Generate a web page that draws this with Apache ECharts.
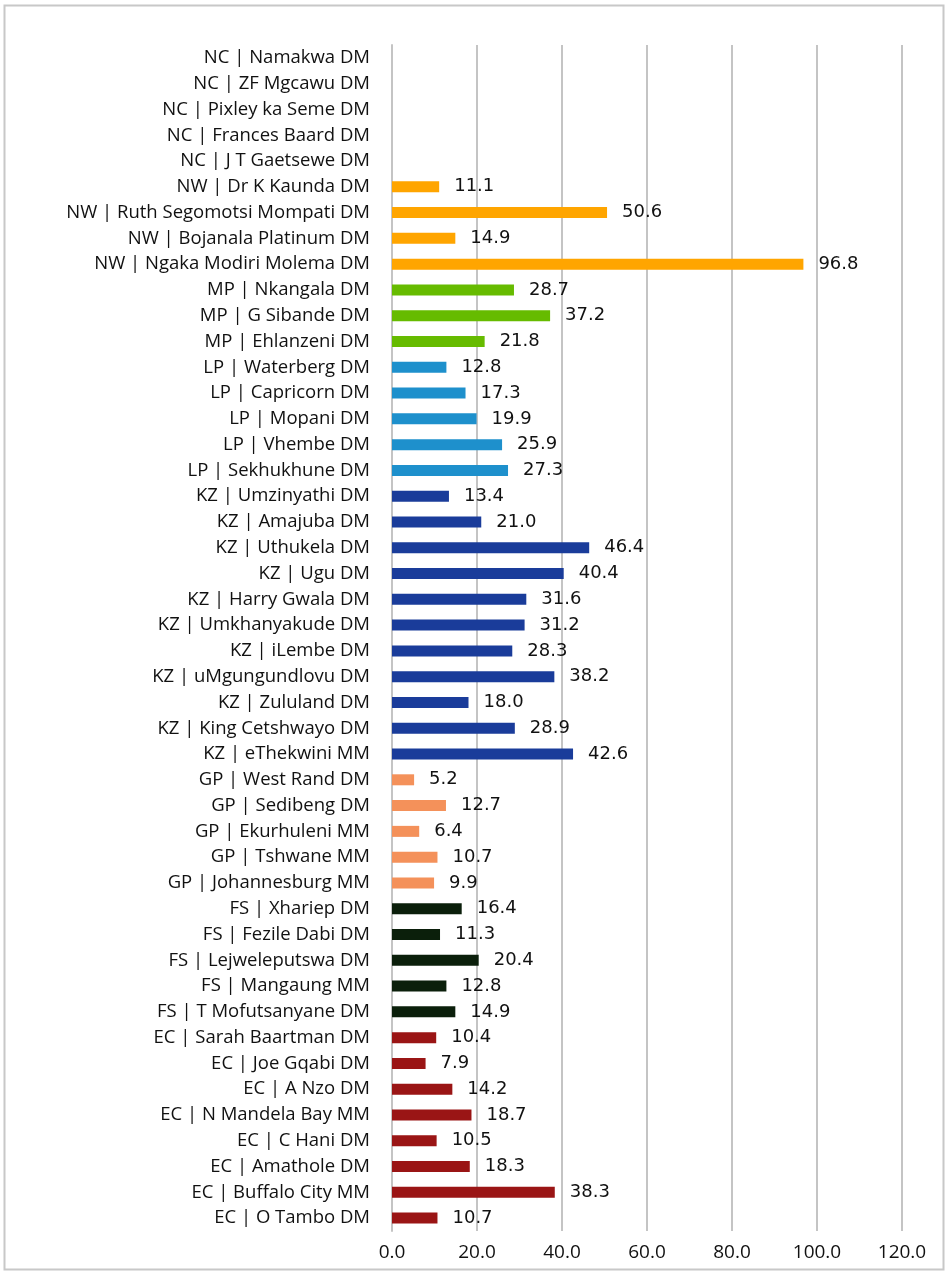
<!DOCTYPE html>
<html>
<head>
<meta charset="utf-8">
<script src="https://cdn.jsdelivr.net/npm/echarts@6/dist/echarts.min.js"></script>
<style>
  html, body { margin: 0; padding: 0; background: #fff; }
  #chart { width: 947px; height: 1273px; }
</style>
</head>
<body>
<div id="chart"></div>
<script>
// districts, top to bottom
var categories = [
    'NC | Namakwa DM', 'NC | ZF Mgcawu DM', 'NC | Pixley ka Seme DM', 'NC | Frances Baard DM', 'NC | J T Gaetsewe DM',
    'NW | Dr K Kaunda DM', 'NW | Ruth Segomotsi Mompati DM', 'NW | Bojanala Platinum DM', 'NW | Ngaka Modiri Molema DM',
    'MP | Nkangala DM', 'MP | G Sibande DM', 'MP | Ehlanzeni DM',
    'LP | Waterberg DM', 'LP | Capricorn DM', 'LP | Mopani DM', 'LP | Vhembe DM', 'LP | Sekhukhune DM',
    'KZ | Umzinyathi DM', 'KZ | Amajuba DM', 'KZ | Uthukela DM', 'KZ | Ugu DM', 'KZ | Harry Gwala DM',
    'KZ | Umkhanyakude DM', 'KZ | iLembe DM', 'KZ | uMgungundlovu DM', 'KZ | Zululand DM', 'KZ | King Cetshwayo DM', 'KZ | eThekwini MM',
    'GP | West Rand DM', 'GP | Sedibeng DM', 'GP | Ekurhuleni MM', 'GP | Tshwane MM', 'GP | Johannesburg MM',
    'FS | Xhariep DM', 'FS | Fezile Dabi DM', 'FS | Lejweleputswa DM', 'FS | Mangaung MM', 'FS | T Mofutsanyane DM',
    'EC | Sarah Baartman DM', 'EC | Joe Gqabi DM', 'EC | A Nzo DM', 'EC | N Mandela Bay MM', 'EC | C Hani DM',
    'EC | Amathole DM', 'EC | Buffalo City MM', 'EC | O Tambo DM'
];

var values = [
    null, null, null, null, null,
    11.1, 50.6, 14.9, 96.8,
    28.7, 37.2, 21.8,
    12.8, 17.3, 19.9, 25.9, 27.3,
    13.4, 21.0, 46.4, 40.4, 31.6, 31.2, 28.3, 38.2, 18.0, 28.9, 42.6,
    5.2, 12.7, 6.4, 10.7, 9.9,
    16.4, 11.3, 20.4, 12.8, 14.9,
    10.4, 7.9, 14.2, 18.7, 10.5, 18.3, 38.3, 10.7
];

var xTicks = [0, 20, 40, 60, 80, 100, 120];

var provinceColors = {
    NC: '#999999',
    NW: '#FFA500',
    MP: '#66BB00',
    LP: '#1E90CC',
    KZ: '#1A3C9A',
    GP: '#F4915A',
    FS: '#0B1F0B',
    EC: '#9A1515'
};

var myChart = echarts.init(document.getElementById('chart'));

var barData = values.map(function (v, i) {
    var prov = categories[i].split(' |')[0];
    return { value: v, itemStyle: { color: provinceColors[prov] } };
});

var option = {
    backgroundColor: '#ffffff',
    animation: false,
    graphic: [{
        type: 'rect',
        shape: { x: 4.5, y: 5.5, width: 939, height: 1264 },
        style: { fill: 'none', stroke: '#c8c8c8', lineWidth: 2 }
    }],
    grid: { left: 392, right: 45, top: 45, bottom: 42 },
    xAxis: {
        type: 'value',
        min: xTicks[0],
        max: xTicks[xTicks.length - 1],
        interval: 20,
        axisLine: { show: false },
        axisTick: { show: false },
        axisLabel: {
            margin: 12,
            fontFamily: 'Open Sans',
            fontSize: 19,
            color: '#111',
            formatter: function (v) { return v.toFixed(1); }
        },
        splitLine: { show: true, lineStyle: { color: '#c4c4c4', width: 2 } }
    },
    yAxis: {
        type: 'category',
        inverse: true,
        data: categories,
        axisLine: { show: true, lineStyle: { color: '#c4c4c4', width: 2 } },
        axisTick: { show: false },
        axisLabel: {
            margin: 22,
            fontFamily: 'Open Sans',
            fontSize: 18.5,
            color: '#111'
        }
    },
    series: [{
        type: 'bar',
        data: barData,
        barWidth: 11,
        label: {
            show: true,
            position: 'right',
            distance: 15,
            fontFamily: 'DejaVu Sans',
            fontSize: 18,
            color: '#111',
            formatter: function (p) { return p.value == null ? '' : p.value.toFixed(1); }
        }
    }]
};

myChart.setOption(option);
</script>
</body>
</html>
